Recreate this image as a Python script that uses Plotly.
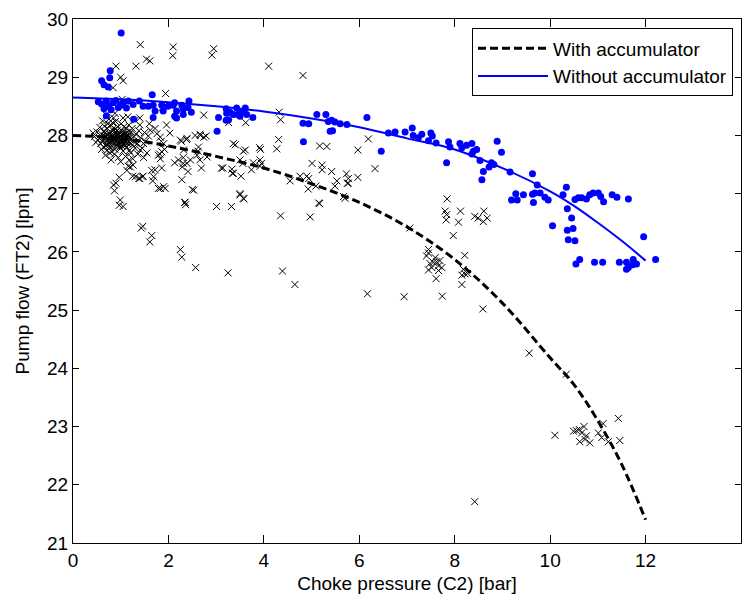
import plotly.graph_objects as go

# Pump flow vs. choke pressure, with and without accumulator

# --- measured points, with accumulator (black crosses) ---
with_x = [
    1.41, 2.10, 2.09, 2.95, 2.91, 0.90, 1.32, 1.54, 1.61, 1.00, 1.05, 0.84, 4.10, 4.82, 1.94, 1.03,
    4.32, 4.35, 2.74, 3.26, 3.62, 1.87, 1.40,
    6.19, 5.97, 6.33, 5.17, 5.32, 4.31, 3.91, 3.93, 4.27, 3.36, 3.40, 3.61, 3.57, 3.92, 3.50, 3.56,
    3.78, 3.14, 3.33, 3.36, 3.92, 3.50, 3.57, 4.55, 4.76, 4.90, 4.94, 5.01, 5.22, 5.22, 5.42, 5.53,
    5.73, 5.77, 5.75, 5.97, 5.67, 5.15, 2.35, 2.53,
    1.83, 1.90, 1.86, 1.79, 1.83, 1.34, 1.48, 1.41, 2.25, 2.39, 2.32, 2.21, 2.46, 2.29, 2.39, 2.56,
    2.67, 2.74, 2.63, 2.60, 2.81, 1.62, 1.72, 1.76, 1.65, 1.69, 1.90, 1.83, 1.13, 1.20, 1.31, 1.38,
    1.45, 2.79,
    2.27, 2.38, 2.66, 2.62, 2.31, 2.13, 1.96, 2.03, 1.85, 1.92, 1.82,
    1.16, 1.26, 1.72, 1.86, 2.31, 2.41, 2.69, 2.66, 3.11, 3.34, 3.52, 3.74, 3.95,
    0.97, 0.90, 0.87, 0.85, 0.99, 0.97, 1.05, 1.25, 1.40, 1.47, 1.67, 1.79, 1.93, 2.28, 2.50, 2.34,
    2.36, 3.01, 3.32, 3.50, 3.58, 1.46, 1.43, 1.65, 1.61, 2.25, 2.28, 2.57, 3.25, 4.35, 4.97, 5.17,
    4.93, 5.09, 5.49, 5.77, 5.70, 4.39, 4.65, 6.17, 6.94,
    7.84, 7.80, 7.83, 7.82, 8.12, 8.08, 8.42, 8.49, 8.61, 8.60, 8.68, 7.97, 7.45, 7.45, 7.41, 8.21,
    7.55, 7.62, 7.69, 7.73, 7.66, 7.45, 7.52, 7.61, 8.15, 8.22, 8.27, 8.15, 7.74, 8.59, 9.56, 10.34,
    7.06, 7.48, 7.59, 7.66, 8.18,
    10.10, 10.49, 10.55, 10.61, 10.66, 10.71, 10.76, 10.62, 10.73, 10.83, 11.01, 11.11, 11.08, 11.22,
    11.43, 11.46, 8.42,
    0.55, 0.60, 0.62, 0.65, 0.68, 0.70, 0.72, 0.74, 0.76, 0.78, 0.80, 0.82, 0.84, 0.86, 0.88, 0.90,
    0.92, 0.94, 0.96, 0.98, 1.00, 1.02, 1.04, 1.06, 1.08, 1.10, 1.12, 1.14, 1.16, 1.18, 1.20, 1.22,
    1.25, 1.28, 1.30,
    0.58, 0.64, 0.66, 0.71, 0.73, 0.77, 0.79, 0.81, 0.83, 0.87, 0.89, 0.91, 0.93, 0.95, 0.97, 0.99,
    1.01, 1.03, 1.05, 1.07, 1.09, 1.11, 1.13, 1.15, 1.17, 1.19, 1.21, 1.24, 1.27, 1.32,
    0.45, 0.48, 0.50, 0.52, 0.42, 0.56, 0.60, 0.68, 0.75, 0.85, 0.95, 1.05, 1.10, 1.35, 1.38, 1.42,
    1.45, 1.50, 1.52, 1.55, 1.58, 1.36, 1.40, 1.48, 1.60,
    0.70, 0.62, 0.88, 1.15, 1.30, 1.25, 0.80, 1.00, 1.18,
    0.63, 0.67, 0.69, 0.72, 0.75, 0.78, 0.81, 0.84, 0.86, 0.89, 0.92, 0.94, 0.97, 1.00, 1.03, 1.06,
    1.09, 1.12, 1.15, 1.19, 0.66, 0.71, 0.76, 0.80, 0.85, 0.90, 0.95, 1.00, 1.04, 1.08, 1.13, 1.17,
    0.74, 0.83, 0.93, 1.02, 1.11, 0.79, 0.88, 0.98,
]
with_y = [
    29.56, 29.52, 29.37, 29.49, 29.38, 29.19, 29.19, 29.31, 29.28, 29.00, 28.94, 28.82, 29.19, 29.03, 28.72, 28.62,
    28.40, 28.27, 28.35, 28.22, 28.22, 28.48, 28.30,
    27.94, 27.75, 27.43, 27.82, 27.81, 27.93, 27.79, 27.76, 27.77, 27.86, 27.84, 27.75, 27.73, 27.58, 27.58, 27.52,
    27.53, 27.44, 27.42, 27.35, 27.47, 27.00, 26.92, 27.22, 27.30, 27.30, 27.26, 27.52, 27.49, 27.41, 27.38, 27.22,
    27.34, 27.26, 27.18, 27.28, 26.95, 26.84, 26.85, 27.06,
    27.97, 27.86, 27.72, 27.66, 27.60, 27.86, 27.86, 27.75, 27.92, 27.95, 27.75, 27.58, 27.58, 27.46, 27.52, 28.00,
    28.00, 27.97, 27.80, 27.66, 27.63, 28.09, 28.12, 28.03, 27.40, 27.29, 27.12, 27.09, 27.40, 27.46, 27.29, 27.26,
    27.29, 27.99,
    27.90, 27.93, 28.02, 27.73, 27.62, 27.53, 28.18, 28.04, 27.90, 27.76, 27.68,
    27.47, 27.49, 27.41, 27.44, 27.52, 27.38, 27.44, 27.58, 27.44, 27.35, 27.30, 27.41, 27.52,
    27.28, 27.18, 27.05, 27.15, 26.89, 26.80, 26.78, 27.30, 27.26, 27.30, 27.22, 27.09, 27.09, 27.24, 27.07, 26.85,
    26.81, 26.78, 26.78, 26.98, 26.91, 26.44, 26.41, 26.28, 26.17, 26.04, 25.91, 25.73, 25.64, 26.62, 26.60, 26.83,
    27.08, 27.13, 27.13, 27.18, 26.92, 25.67, 25.44, 25.28, 25.23,
    26.91, 26.70, 26.64, 26.55, 26.70, 26.51, 26.61, 26.58, 26.70, 26.52, 26.58, 26.28, 26.04, 25.98, 25.93, 25.94,
    25.82, 25.83, 25.85, 25.73, 25.76, 25.69, 25.73, 25.54, 25.60, 25.62, 25.63, 25.44, 25.24, 25.02, 24.26, 23.90,
    26.41, 25.80, 25.90, 25.68, 25.70,
    22.85, 22.92, 22.93, 22.95, 22.89, 23.00, 22.84, 22.74, 22.78, 22.72, 22.89, 23.05, 22.81, 22.74,
    23.14, 22.76, 21.71,
    27.95, 28.02, 27.90, 28.08, 27.98, 27.85, 28.12, 27.93, 28.03, 27.80, 27.96, 28.10, 27.88, 28.00, 27.76, 28.06,
    27.92, 28.15, 27.84, 27.99, 27.78, 28.08, 27.90, 28.02, 27.82, 27.95, 28.12, 27.86, 28.00, 27.74, 27.93, 28.06,
    27.84, 27.98, 27.78,
    27.86, 27.80, 28.16, 27.74, 28.20, 27.70, 28.18, 27.72, 28.22, 27.68, 28.24, 27.83, 28.00, 27.95, 28.05, 27.88,
    28.20, 27.97, 27.73, 28.15, 27.88, 28.04, 27.80, 27.92, 28.18, 27.96, 27.70, 28.12, 27.90, 28.02,
    27.98, 27.88, 28.06, 27.92, 28.04, 28.14, 27.76, 27.66, 28.28, 28.30, 27.62, 28.30, 27.64, 27.86, 28.08, 27.96,
    27.78, 28.05, 27.90, 27.70, 27.99, 27.68, 28.18, 27.62, 28.20,
    28.35, 28.25, 28.38, 28.32, 28.26, 27.60, 27.58, 27.55, 27.58,
    27.93, 28.04, 27.82, 27.97, 27.88, 28.07, 27.91, 27.99, 27.83, 27.94, 28.03, 27.87, 27.96, 27.91, 28.01, 27.85,
    27.97, 27.89, 28.05, 27.87, 27.99, 27.92, 27.86, 28.01, 27.95, 27.89, 28.02, 27.94, 27.87, 28.00, 27.93, 27.98,
    27.81, 27.91, 28.09, 27.82, 27.99, 27.97, 28.11, 27.80,
]

# --- measured points, without accumulator (blue dots) ---
without_x = [
    1.01, 0.78, 0.77, 0.60, 0.65, 0.74, 1.66,
    0.53, 0.60, 0.70, 0.74, 0.84, 0.90, 0.95, 1.00, 1.12, 1.16, 1.26, 1.39, 1.47, 1.58, 1.68, 1.72,
    1.68, 1.86, 1.89, 1.99, 2.10, 2.13, 2.17, 2.28, 2.31, 2.41, 2.48, 2.43, 2.31, 2.17, 2.13,
    0.70, 1.27, 0.65, 0.80, 1.05,
    3.05, 3.02, 3.21, 3.22, 3.29, 3.36, 3.43, 3.45, 3.50, 3.54, 3.61, 3.64, 3.77, 3.21, 3.26,
    4.83, 4.82, 4.94, 5.11, 5.30, 5.35, 5.39,
    5.42, 5.49, 5.60, 5.44, 5.74, 6.16, 6.46, 6.61, 6.75, 6.96, 7.11, 7.13, 7.24, 7.31, 7.50, 7.53,
    7.45, 7.61, 7.87, 7.90, 7.83, 8.11, 8.15, 8.25, 8.36, 8.39, 8.46, 8.36, 8.53, 8.60, 8.57,
    8.89, 8.98, 8.77, 8.82, 8.72, 9.16, 9.63, 9.73, 10.34,
    9.28, 9.44, 9.19, 9.31, 9.63, 9.68, 9.65, 9.79, 9.89, 9.96, 10.27, 10.36,
    10.52, 10.59, 10.66, 10.76, 10.83, 10.90, 11.01, 11.06, 11.12, 11.30, 11.40, 11.64,
    10.45, 10.05, 10.36, 10.48, 10.38, 10.52, 11.96, 12.21, 10.62, 10.54, 10.93, 11.10, 11.45, 11.60,
    11.74, 11.64, 11.60, 11.81, 11.73,
]
without_y = [
    29.76, 29.11, 28.99, 28.94, 28.87, 28.83, 28.70,
    28.58, 28.54, 28.59, 28.50, 28.56, 28.60, 28.48, 28.52, 28.47, 28.59, 28.53, 28.59, 28.50, 28.50, 28.52, 28.42,
    28.31, 28.52, 28.42, 28.50, 28.52, 28.56, 28.42, 28.52, 28.45, 28.48, 28.40, 28.59, 28.36, 28.30, 28.33,
    28.34, 28.28, 28.46, 28.44, 28.56,
    28.31, 28.07, 28.46, 28.38, 28.40, 28.36, 28.47, 28.36, 28.33, 28.41, 28.47, 28.36, 28.31, 28.26, 28.27,
    27.89, 28.21, 28.20, 28.36, 28.36, 28.24, 28.07,
    28.26, 28.23, 28.20, 28.08, 28.19, 28.31, 27.73, 28.04, 28.06, 28.06, 28.13, 28.00, 27.96, 28.02, 28.04, 27.99,
    27.91, 27.87, 27.89, 27.80, 27.53, 27.86, 27.79, 27.83, 27.86, 27.73, 27.76, 27.68, 27.57, 27.38, 27.24,
    27.90, 27.71, 27.53, 27.50, 27.46, 27.37, 27.34, 27.15, 27.11,
    27.00, 26.98, 26.89, 26.89, 26.99, 27.01, 26.85, 27.01, 26.94, 26.89, 26.98, 26.74,
    26.90, 26.93, 26.93, 26.91, 26.98, 27.01, 27.01, 26.95, 26.86, 26.98, 26.94, 26.91,
    26.58, 26.45, 26.37, 26.40, 26.21, 26.19, 26.26, 25.87, 25.87, 25.79, 25.82, 25.82, 25.82, 25.82,
    25.87, 25.73, 25.70, 25.79, 25.78,
]

# --- fitted curves ---
fit_x = [0, 1, 2, 3, 4, 5, 6, 7, 8, 9, 10, 10.5, 11, 11.5, 12]
fit_with = [28.00, 27.95, 27.82, 27.64, 27.44, 27.17, 26.85, 26.43, 25.87, 25.12, 24.18, 23.72, 23.10, 22.35, 21.40]
fit_without = [28.65, 28.62, 28.57, 28.50, 28.41, 28.29, 28.14, 27.95, 27.76, 27.44, 27.04, 26.79, 26.50, 26.19, 25.85]

x_ticks = [0, 2, 4, 6, 8, 10, 12, 14]
y_ticks = [21, 22, 23, 24, 25, 26, 27, 28, 29, 30]

FONT = "Liberation Sans, Arial, Helvetica, sans-serif"

fig = go.Figure()

fig.add_trace(go.Scatter(
    x=with_x, y=with_y, mode="markers", showlegend=False,
    marker=dict(symbol="x-thin", size=7, color="black",
                line=dict(color="black", width=1)),
))
fig.add_trace(go.Scatter(
    x=without_x, y=without_y, mode="markers", showlegend=False,
    marker=dict(symbol="circle", size=7, color="#0000ff", line=dict(width=0)),
))
fig.add_trace(go.Scatter(
    x=fit_x, y=fit_with, mode="lines", name="With accumulator",
    line=dict(color="black", width=3, dash="8px,4px", shape="spline"),
))
fig.add_trace(go.Scatter(
    x=fit_x, y=fit_without, mode="lines", name="Without accumulator",
    line=dict(color="#0000ff", width=2, shape="spline"),
))

axis_common = dict(
    showline=True, linecolor="black", linewidth=1, mirror="ticks",
    ticks="inside", tickcolor="black", tickwidth=1,
    showgrid=False, zeroline=False,
    tickfont=dict(family=FONT, size=19, color="black"),
)

fig.update_xaxes(
    range=[0, 14], tickvals=x_ticks, ticklen=8,
    title=dict(text="Choke pressure (C2) [bar]",
               font=dict(family=FONT, size=19, color="black"), standoff=6),
    **axis_common,
)
fig.update_yaxes(
    range=[21, 30], tickvals=y_ticks, ticklen=6,
    title=dict(text="Pump flow (FT2) [lpm]",
               font=dict(family=FONT, size=19, color="black"), standoff=12),
    **axis_common,
)

fig.update_layout(
    width=751, height=600,
    margin=dict(l=73, r=9, t=14, b=57),
    paper_bgcolor="white", plot_bgcolor="white",
    font=dict(family=FONT, size=19, color="black"),
    legend=dict(
        x=0.988, y=0.982, xanchor="right", yanchor="top",
        bgcolor="white", bordercolor="black", borderwidth=1,
        font=dict(family=FONT, size=19, color="black"),
        itemwidth=70, tracegroupgap=0,
    ),
)

fig.write_html("out.html")
